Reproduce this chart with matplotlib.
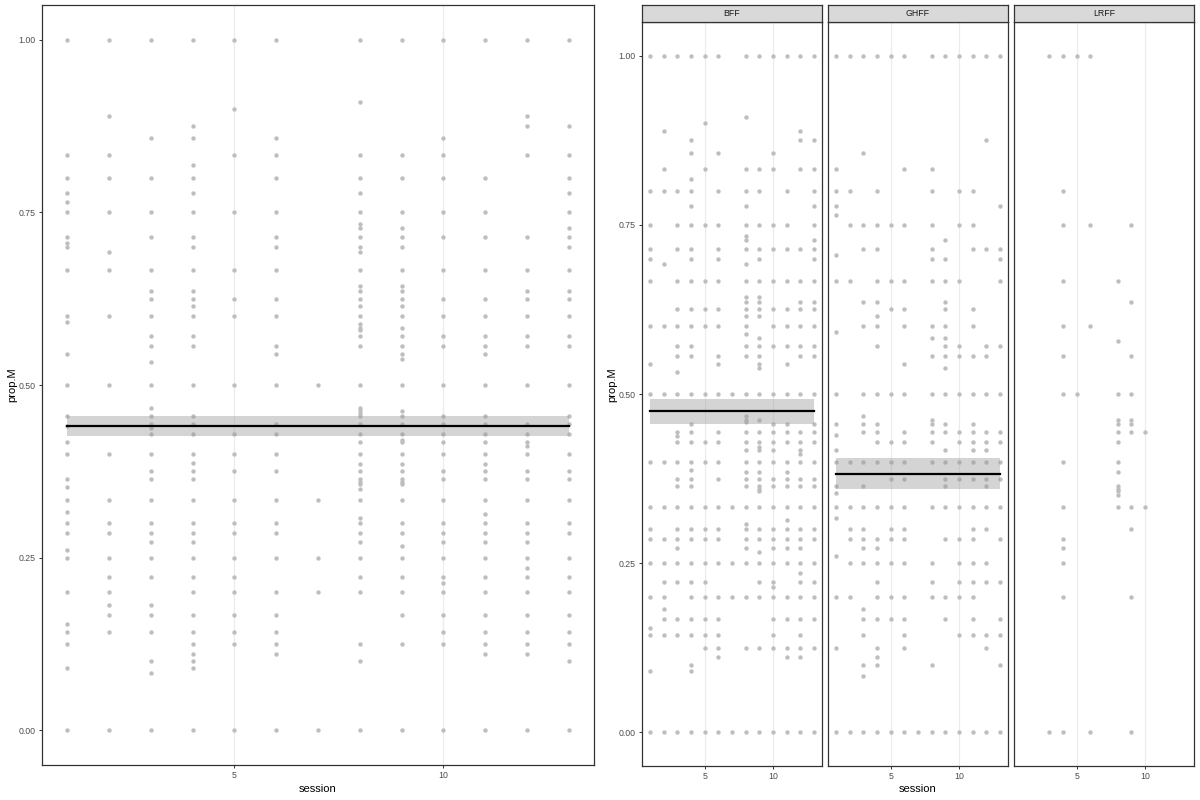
import matplotlib
matplotlib.use("Agg")
import matplotlib.pyplot as plt

plt.rcParams['font.family'] = ['Liberation Sans', 'DejaVu Sans']

# Observed proportions, one row per value: (prop.M, sessions where it occurs)
bff_rows = [
    (1.0, [1, 2, 3, 4, 5, 6, 8, 9, 10, 11, 12, 13]),
    (0.909, [8]), (0.9, [5]), (0.889, [2, 12]), (0.875, [4, 12, 13]),
    (0.857, [4, 6, 10]), (0.833, [2, 5, 8, 9, 10, 12, 13]), (0.818, [4]),
    (0.8, [1, 2, 3, 4, 6, 8, 9, 11, 13]), (0.778, [4, 8, 13]),
    (0.75, [1, 3, 4, 5, 6, 8, 9, 10, 11, 13]), (0.733, [8]), (0.727, [8, 13]),
    (0.714, [1, 3, 4, 6, 8, 9, 10, 11, 12, 13]), (0.7, [1, 4, 6, 9, 13]),
    (0.692, [2, 8]), (0.667, [1, 3, 4, 5, 6, 8, 9, 10, 11, 12, 13]),
    (0.643, [8, 9]), (0.636, [8, 9, 12, 13]),
    (0.625, [3, 4, 5, 6, 8, 9, 10, 11, 12, 13]), (0.615, [8, 9]),
    (0.6, [1, 2, 3, 4, 5, 6, 8, 10, 11, 12, 13]), (0.588, [8]), (0.583, [9]),
    (0.571, [3, 4, 8, 9, 10, 11, 12, 13]), (0.556, [3, 4, 6, 8, 9, 12, 13]),
    (0.545, [1, 6, 9, 11]), (0.538, [9]), (0.533, [3]),
    (0.5, [1, 2, 3, 4, 5, 6, 7, 8, 9, 10, 11, 12, 13]),
    (0.467, [8]), (0.462, [8, 9]), (0.458, [8]), (0.455, [4, 10, 11, 13]),
    (0.444, [3, 4, 6, 8, 9, 10, 11, 12, 13]), (0.438, [3]),
    (0.429, [3, 4, 5, 6, 8, 9, 10, 11, 12, 13]), (0.421, [9]),
    (0.417, [8, 9, 10, 12]), (0.412, [12]),
    (0.4, [1, 2, 3, 4, 5, 6, 8, 9, 10, 11, 12, 13]), (0.387, [4]),
    (0.385, [8, 9, 11]), (0.375, [3, 4, 6, 8, 9, 10, 11, 12, 13]),
    (0.364, [3, 4, 8, 9, 10, 11, 12, 13]), (0.36, [9]), (0.357, [9]),
    (0.333, [1, 2, 3, 4, 5, 6, 7, 8, 9, 10, 11, 12, 13]), (0.313, [11]),
    (0.308, [8]), (0.3, [1, 3, 4, 5, 6, 8, 9, 10, 11, 12, 13]),
    (0.286, [1, 2, 3, 4, 5, 6, 8, 9, 10, 11, 12, 13]),
    (0.273, [3, 8, 10, 11, 12]), (0.267, [9]),
    (0.25, [1, 2, 3, 4, 5, 6, 7, 8, 9, 10, 11, 12, 13]), (0.235, [12]),
    (0.222, [2, 3, 4, 5, 9, 10, 12, 13]), (0.214, [10]),
    (0.2, [1, 2, 4, 5, 6, 7, 8, 9, 10, 11, 12, 13]), (0.182, [2]),
    (0.167, [2, 3, 4, 5, 6, 10, 11, 12, 13]), (0.154, [1]),
    (0.143, [1, 2, 3, 4, 5, 6, 10, 12]), (0.125, [5, 6, 8, 9, 10, 11, 12, 13]),
    (0.111, [6, 11, 12]), (0.1, [4]), (0.091, [1, 4]),
    (0.0, [1, 2, 3, 4, 5, 6, 7, 8, 9, 10, 11, 12, 13]),
]

ghff_rows = [
    (1.0, [1, 2, 3, 4, 5, 6, 8, 9, 10, 11, 12, 13]),
    (0.875, [12]), (0.857, [3]), (0.833, [1, 6, 8]), (0.8, [1, 2, 4, 8, 10, 11]),
    (0.778, [1, 13]), (0.765, [1]), (0.75, [2, 3, 4, 5, 6, 8, 10, 11]),
    (0.727, [9]), (0.714, [3, 4, 8, 11, 12, 13]), (0.706, [1]), (0.7, [8, 9, 13]),
    (0.667, [1, 2, 4, 5, 6, 8, 9, 10, 13]), (0.636, [3, 4, 9]),
    (0.625, [5, 6, 9, 11]), (0.615, [4]), (0.6, [3, 4, 6, 8, 9, 11]),
    (0.591, [1]), (0.583, [8, 9]), (0.571, [4, 9, 10, 12, 13]),
    (0.556, [8, 9, 10, 11, 12]), (0.545, [6]), (0.538, [9]),
    (0.5, [1, 3, 4, 5, 6, 8, 9, 10, 11, 12, 13]),
    (0.467, [3]), (0.462, [8]), (0.455, [1, 3, 4, 8, 9, 11]),
    (0.444, [3, 4, 6, 8, 9, 10, 11, 12, 13]), (0.44, [1]),
    (0.429, [4, 5, 6, 8, 10, 11, 12, 13]), (0.417, [1, 9, 11, 12]),
    (0.4, [1, 2, 3, 4, 5, 6, 8, 9, 10, 11, 12, 13]),
    (0.375, [5, 6, 9, 10, 11, 12, 13]), (0.364, [1, 3, 9, 12]), (0.353, [1]),
    (0.333, [1, 2, 3, 4, 5, 6, 8, 9, 10, 11, 12, 13]), (0.316, [1]),
    (0.3, [2, 3, 5, 6, 11, 12]), (0.286, [2, 3, 4, 5, 6, 9, 10, 11, 13]),
    (0.273, [3, 4]), (0.261, [1]), (0.25, [2, 3, 4, 5, 6, 8, 10, 11, 12]),
    (0.222, [4, 8, 10, 11, 12, 13]), (0.2, [1, 2, 4, 5, 6, 8, 9, 10, 11]),
    (0.182, [3]), (0.167, [3, 4, 5, 6, 9, 11, 13]),
    (0.143, [3, 6, 10, 11, 12, 13]), (0.125, [1, 4, 6, 12]), (0.111, [4]),
    (0.1, [3, 4, 8, 13]), (0.083, [3]),
    (0.0, [1, 2, 3, 4, 5, 6, 7, 8, 9, 10, 11, 12, 13]),
]

lrff_rows = [
    (1.0, [3, 4, 5, 6]), (0.8, [4]), (0.75, [4, 6, 9]), (0.667, [4, 8]),
    (0.636, [9]), (0.6, [4, 6]), (0.579, [8]), (0.556, [4, 9]),
    (0.5, [4, 5, 8, 9]), (0.462, [8, 9]), (0.455, [8, 9]), (0.444, [8, 9, 10]),
    (0.429, [8]), (0.4, [4, 8]), (0.385, [8]), (0.364, [8]), (0.36, [8]),
    (0.357, [8]), (0.35, [8]), (0.333, [4, 8, 9, 10]), (0.3, [9]), (0.286, [4]),
    (0.273, [4]), (0.25, [4]), (0.2, [4, 9]), (0.0, [3, 4, 6, 9]),
]

group_names = ["BFF", "GHFF", "LRFF"]
# intercept-only fit (mean and confidence band); LRFF has no fitted line
fit_mean = [0.475, 0.382, None]
fit_lo = [0.456, 0.359, None]
fit_hi = [0.492, 0.405, None]
pooled_fit = (0.441, 0.426, 0.455)

POINT_COL = "#BEBEBE"
FRAME_COL = "#333333"
W, H = 1200, 800


def expand(rows):
    # unique (session, value) pairs, so overlapping points are drawn once
    pts = sorted({(s, val) for val, sessions in rows for s in sessions})
    return [p[0] for p in pts], [p[1] for p in pts]


def px_axes(fig, x0, y0, x1, y1):
    return fig.add_axes([x0 / W, 1 - y1 / H, (x1 - x0) / W, (y1 - y0) / H])


def style_panel(ax, show_y):
    ax.set_xlim(0.4, 13.6)
    ax.set_ylim(-0.05, 1.05)
    ax.set_xticks([5, 10])
    ax.set_yticks([0, 0.25, 0.5, 0.75, 1.0])
    ax.set_yticklabels(["0.00", "0.25", "0.50", "0.75", "1.00"])
    ax.grid(axis="x", color="#EBEBEB", lw=0.8)
    ax.set_axisbelow(True)
    for sp in ax.spines.values():
        sp.set_color(FRAME_COL)
        sp.set_linewidth(0.9)
    ax.tick_params(length=2.5, width=0.7, color=FRAME_COL, labelcolor="#4D4D4D",
                   labelsize=6.3, pad=2)
    if not show_y:
        ax.tick_params(axis="y", left=False, labelleft=False)


def draw(ax, xs, ys, fit):
    ax.scatter(xs, ys, s=10, color=POINT_COL, linewidths=0, zorder=2)
    if fit[0] is not None:
        x0, x1 = min(xs), max(xs)
        ax.fill_between([x0, x1], [fit[1]] * 2, [fit[2]] * 2, color="#999999",
                        alpha=0.42, lw=0, zorder=3)
        ax.plot([x0, x1], [fit[0]] * 2, color="black", lw=1.6, zorder=4)


fig = plt.figure(figsize=(12, 8), dpi=100)

# pooled panel
all_rows = bff_rows + ghff_rows + lrff_rows
px, py = expand(all_rows)
ax = px_axes(fig, 42, 5, 594, 765)
style_panel(ax, True)
draw(ax, px, py, pooled_fit)
fig.text(318 / W, 1 - 789 / H, "session", ha="center", va="center", fontsize=8)
fig.text(12 / W, 1 - 385 / H, "prop.M", ha="center", va="center", rotation=90, fontsize=8)

# faceted panels
facet_x = [(642, 822), (828, 1008), (1014, 1194)]
for i, rows in enumerate([bff_rows, ghff_rows, lrff_rows]):
    x0, x1 = facet_x[i]
    ax = px_axes(fig, x0, 22, x1, 766)
    style_panel(ax, i == 0)
    xs, ys = expand(rows)
    draw(ax, xs, ys, (fit_mean[i], fit_lo[i], fit_hi[i]))
    strip = px_axes(fig, x0, 5, x1, 22)
    strip.set_facecolor("#D9D9D9")
    strip.set_xticks([])
    strip.set_yticks([])
    for sp in strip.spines.values():
        sp.set_color(FRAME_COL)
        sp.set_linewidth(0.9)
    strip.text(0.5, 0.5, group_names[i], ha="center", va="center",
               fontsize=6.3, color="#1A1A1A", transform=strip.transAxes)

fig.text(918 / W, 1 - 789 / H, "session", ha="center", va="center", fontsize=8)
fig.text(612 / W, 1 - 385 / H, "prop.M", ha="center", va="center", rotation=90, fontsize=8)

fig.savefig("out.png", dpi=100, facecolor="white")
